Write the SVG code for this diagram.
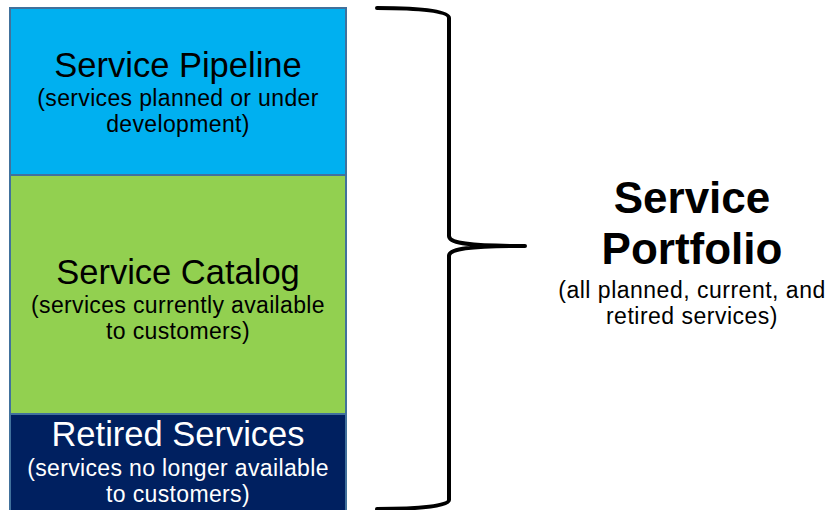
<svg xmlns="http://www.w3.org/2000/svg" width="828" height="510" viewBox="0 0 828 510">
<style>
.box{stroke:#41719C;stroke-width:2}
.t{font-family:"Liberation Sans",Arial,sans-serif;text-anchor:middle}
.h{font-size:34.5px}
.s{font-size:23px;letter-spacing:0.35px}
.dark{fill:#000}
.light{fill:#fff}
.big{font-size:44px;font-weight:bold}
.sm{font-size:23px;letter-spacing:0.5px}
.brace{fill:none;stroke:#000;stroke-width:4;stroke-linecap:round;stroke-linejoin:round}
</style>
<rect x="0" y="0" width="828" height="510" fill="#fff"/>
<g id="pipeline">
<rect class="box" x="10" y="8" width="336" height="167" fill="#00B0F0"/>
<text class="t h dark" x="178" y="77">Service Pipeline</text>
<text class="t s dark" x="178" y="106">(services planned or under</text>
<text class="t s dark" x="178" y="132">development)</text>
</g>
<g id="catalog">
<rect class="box" x="10" y="175" width="336" height="239" fill="#92D050"/>
<text class="t h dark" x="178" y="284">Service Catalog</text>
<text class="t s dark" x="178" y="313">(services currently available</text>
<text class="t s dark" x="178" y="339">to customers)</text>
</g>
<g id="retired">
<rect class="box" x="10" y="414" width="336" height="100" fill="#002060"/>
<text class="t h light" x="178" y="446">Retired Services</text>
<text class="t s light" x="178" y="476">(services no longer available</text>
<text class="t s light" x="178" y="502">to customers)</text>
</g>
<g id="connectors">
<path class="brace" d="M377 8 C420 8 449 11 449 18 L449 236 C449 242 460 246 525 246 C460 246 449 250 449 256 L449 500 C449 506 420 509 377 509"/>
</g>
<g id="portfolio">
<text class="t big" x="692" y="213">Service</text>
<text class="t big" x="692" y="264">Portfolio</text>
<text class="t sm" x="692" y="298">(all planned, current, and</text>
<text class="t sm" x="692" y="324">retired services)</text>
</g>
</svg>
